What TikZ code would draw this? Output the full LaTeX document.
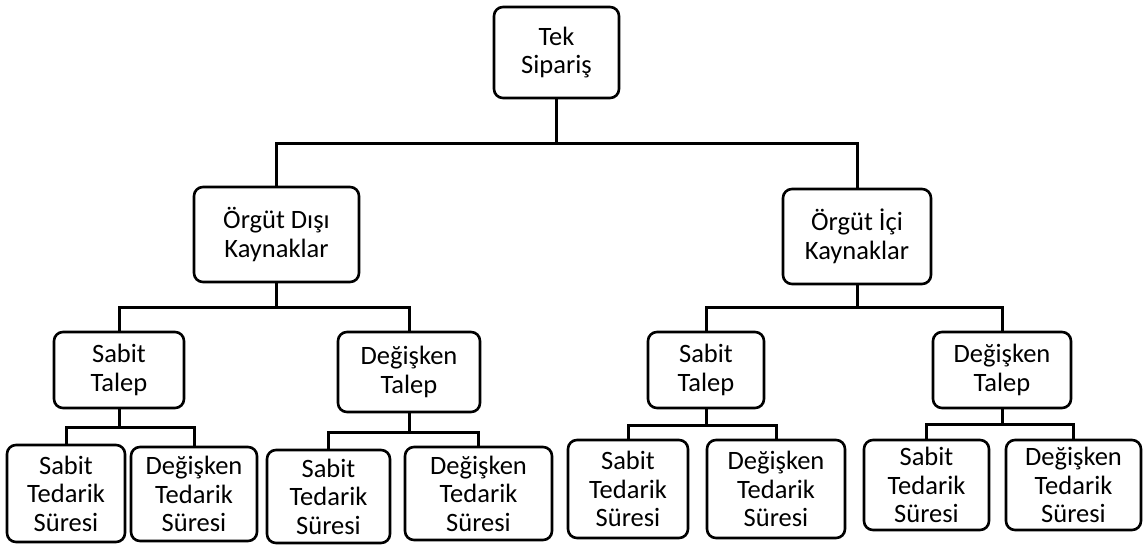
\documentclass[tikz,border=0pt]{standalone}
\usepackage{fontspec}
\setmainfont{Carlito}
\begin{document}
\begin{tikzpicture}[x=1pt,y=-1pt,
  box/.style={draw=black, line width=2.6pt, rounded corners=9pt, align=center,
    inner sep=0pt, font=\fontsize{26.5}{28.5}\selectfont, fill=white},
  conn/.style={draw=black, line width=3pt}]
\useasboundingbox (0,0) rectangle (1143,544);
% level 0
\node[box, minimum width=125pt, minimum height=91pt] (top) at (556.5,52.5) {Tek\\Sipariş};
% level 1
\node[box, minimum width=165pt, minimum height=95pt] (lm) at (276.5,234.5) {Örgüt Dışı\\Kaynaklar};
\node[box, minimum width=148pt, minimum height=95pt] (rm) at (857,236.5) {Örgüt İçi\\Kaynaklar};
% level 2
\node[box, minimum width=130pt, minimum height=76pt] (st1) at (119,370) {Sabit\\Talep};
\node[box, minimum width=142pt, minimum height=80pt] (dt1) at (409,372) {Değişken\\Talep};
\node[box, minimum width=116pt, minimum height=76pt] (st2) at (706,370) {Sabit\\Talep};
\node[box, minimum width=138pt, minimum height=76pt] (dt2) at (1002,370) {Değişken\\Talep};
% level 3
\node[box, minimum width=118pt, minimum height=97pt] (l1) at (66,493.5) {Sabit\\Tedarik\\Süresi};
\node[box, minimum width=126pt, minimum height=94pt] (l2) at (194,494) {Değişken\\Tedarik\\Süresi};
\node[box, minimum width=123pt, minimum height=93pt] (l3) at (328.5,496.5) {Sabit\\Tedarik\\Süresi};
\node[box, minimum width=147pt, minimum height=93pt] (l4) at (478.5,493.5) {Değişken\\Tedarik\\Süresi};
\node[box, minimum width=120pt, minimum height=98pt] (l5) at (628,489) {Sabit\\Tedarik\\Süresi};
\node[box, minimum width=138pt, minimum height=98pt] (l6) at (776,489) {Değişken\\Tedarik\\Süresi};
\node[box, minimum width=125pt, minimum height=90pt] (l7) at (926.5,485) {Sabit\\Tedarik\\Süresi};
\node[box, minimum width=135pt, minimum height=90pt] (l8) at (1073.5,485) {Değişken\\Tedarik\\Süresi};
% bus levels
\coordinate (b0) at (0,143);
\coordinate (b1) at (0,307);
\coordinate (b2) at (0,427);
\coordinate (b3) at (0,432);
\coordinate (b4) at (0,425);
\coordinate (b5) at (0,424);
% connectors
\draw[conn] (top.south) -- (top.south |- b0) -| (lm.north);
\draw[conn] (top.south |- b0) -| (rm.north);
\draw[conn] (lm.south) -- (lm.south |- b1) -| (st1.north);
\draw[conn] (lm.south |- b1) -| (dt1.north);
\draw[conn] (rm.south) -- (rm.south |- b1) -| (st2.north);
\draw[conn] (rm.south |- b1) -| (dt2.north);
\draw[conn] (st1.south) -- (st1.south |- b2) -| (l1.north);
\draw[conn] (st1.south |- b2) -| (l2.north);
\draw[conn] (dt1.south) -- (dt1.south |- b3) -| (l3.north);
\draw[conn] (dt1.south |- b3) -| (l4.north);
\draw[conn] (st2.south) -- (st2.south |- b4) -| (l5.north);
\draw[conn] (st2.south |- b4) -| (l6.north);
\draw[conn] (dt2.south) -- (dt2.south |- b5) -| (l7.north);
\draw[conn] (dt2.south |- b5) -| (l8.north);
\end{tikzpicture}
\end{document}
